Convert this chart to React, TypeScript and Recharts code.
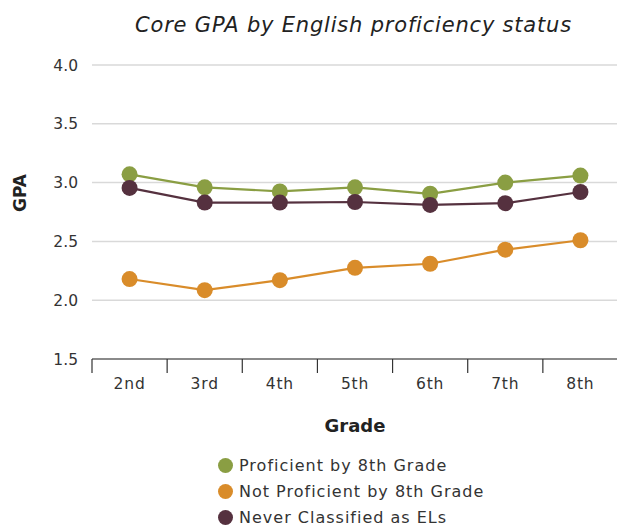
import React from "react";
import {
  LineChart, Line, XAxis, YAxis, CartesianGrid, Label,
} from "recharts";

const GRADES = ["2nd", "3rd", "4th", "5th", "6th", "7th", "8th"];
const PROFICIENT = [3.07, 2.96, 2.925, 2.96, 2.905, 3.0, 3.06];
const NOT_PROFICIENT = [2.18, 2.085, 2.17, 2.275, 2.31, 2.43, 2.51];
const NEVER_EL = [2.955, 2.83, 2.83, 2.835, 2.81, 2.825, 2.92];
const Y_TICKS = [1.5, 2.0, 2.5, 3.0, 3.5, 4.0];

const SERIES = [
  { key: "proficient", name: "Proficient by 8th Grade", color: "#8a9e43" },
  { key: "notProficient", name: "Not Proficient by 8th Grade", color: "#d98c2a" },
  { key: "never", name: "Never Classified as ELs", color: "#55313f" },
];

const data = GRADES.map((g, i) => ({
  grade: g,
  proficient: PROFICIENT[i],
  notProficient: NOT_PROFICIENT[i],
  never: NEVER_EL[i],
}));

const FONT = "'DejaVu Sans', sans-serif";
const W = 617;
const H = 527;
const LEFT = 92;
const PLOT_W = 526;
const BAND = PLOT_W / GRADES.length;

function GradeTick(props: any) {
  const { x, y, payload, index } = props;
  const left = x - BAND / 2;
  return (
    <g>
      <line x1={left} y1={y - 8} x2={left} y2={y + 6} stroke="#333" strokeWidth={1.2} />
      {index === GRADES.length - 1 && (
        <line x1={left + BAND} y1={y - 8} x2={left + BAND} y2={y + 6} stroke="#333" strokeWidth={1.2} />
      )}
      <text x={x} y={y + 22} textAnchor="middle" fontSize={15.5} letterSpacing={0.8} fill="#333" fontFamily={FONT}>
        {payload.value}
      </text>
    </g>
  );
}

export default function App() {
  return (
    <div style={{ position: "absolute", left: 0, top: 0, width: W, height: H, background: "#fff", fontFamily: FONT, overflow: "hidden" }}>
      <div style={{ position: "absolute", top: 13, left: 90, width: 527, textAlign: "center", fontStyle: "italic", fontSize: 21, letterSpacing: 0.8, color: "#222" }}>
        Core GPA by English proficiency status
      </div>
      <LineChart width={LEFT + PLOT_W} height={H} data={data} margin={{ top: 65, right: 0, left: 32, bottom: 138 }}>
        <CartesianGrid vertical={false} stroke="#d9d9d9" strokeWidth={1.5} />
        <XAxis
          dataKey="grade"
          axisLine={{ stroke: "#333", strokeWidth: 1.2 }}
          tickLine={false}
          tick={<GradeTick />}
          interval={0}
          height={30}
          padding={{ left: BAND / 2, right: BAND / 2 }}
        >
          <Label value="Grade" position="bottom" offset={30} fontSize={18} fontWeight="bold" fill="#222" fontFamily={FONT} />
        </XAxis>
        <YAxis
          domain={[1.5, 4.0]}
          ticks={Y_TICKS}
          tickFormatter={(v: number) => v.toFixed(1)}
          axisLine={false}
          tickLine={false}
          width={60}
          tick={{ fontSize: 15.5, fill: "#333", fontFamily: FONT }}
          tickMargin={8}
        >
          <Label value="GPA" angle={-90} position="insideLeft" offset={-12} fontSize={17} fontWeight="bold" fill="#222" fontFamily={FONT} />
        </YAxis>
        {SERIES.map((s) => (
          <Line
            key={s.key}
            dataKey={s.key}
            name={s.name}
            stroke={s.color}
            strokeWidth={2.2}
            dot={{ r: 8, fill: s.color, stroke: "none" }}
            activeDot={false}
            isAnimationActive={false}
          />
        ))}
      </LineChart>
      <div style={{ position: "absolute", left: 218, top: 452 }}>
        {SERIES.map((s) => (
          <div key={s.key} style={{ display: "flex", alignItems: "center", height: 26, lineHeight: "19px", fontSize: 16, letterSpacing: 1, color: "#333" }}>
            <span style={{ width: 15, height: 15, borderRadius: "50%", background: s.color, marginRight: 6, display: "inline-block" }} />
            {s.name}
          </div>
        ))}
      </div>
    </div>
  );
}
